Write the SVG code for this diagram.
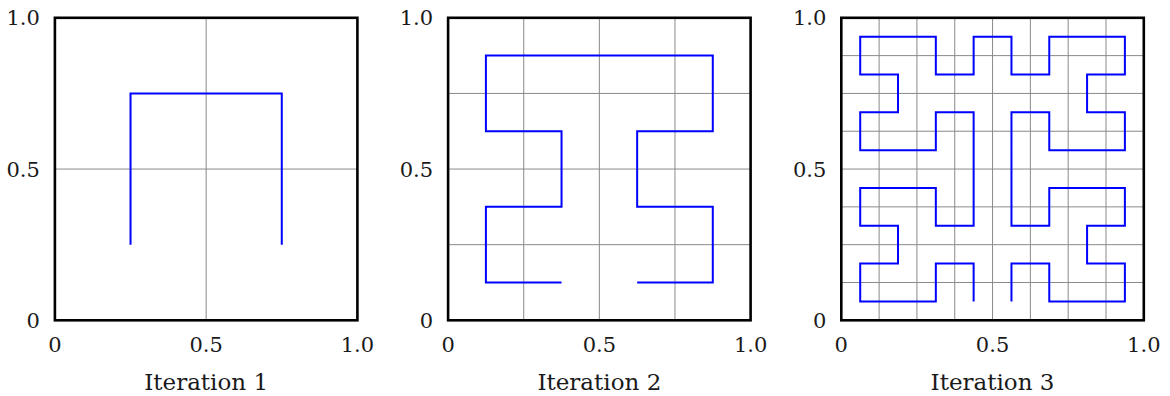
<svg xmlns="http://www.w3.org/2000/svg" width="1170" height="396" viewBox="0 0 1170 396">
<style>
.bg{fill:#ffffff}
.grid{stroke:#8a8a8a;stroke-width:1;fill:none}
.curve{stroke:#0000ff;stroke-width:2;fill:none;stroke-linejoin:miter}
.frame{stroke:#000000;stroke-width:2.6;fill:none}
text{font-family:'DejaVu Serif','Liberation Serif',serif;font-size:21px;fill:#1a1a1a}
.yl{text-anchor:end}
.xl{text-anchor:middle}
.cap{text-anchor:middle;font-size:23px}
</style>
<rect class="bg" x="0" y="0" width="1170" height="396"/>

<g id="panel1" transform="translate(54.9,17.8)">
  <path class="grid" d="M151.25 0V302.5M0 151.25H302.5"/>
  <polyline class="curve" points="75.63,226.88 75.63,75.63 226.88,75.63 226.88,226.88"/>
  <rect class="frame" x="0" y="0" width="302.5" height="302.5"/>
  <text class="yl" x="-15" y="7.5">1.0</text>
  <text class="yl" x="-15" y="159">0.5</text>
  <text class="yl" x="-15" y="310">0</text>
  <text class="xl" x="0" y="334.5">0</text>
  <text class="xl" x="151.25" y="334.5">0.5</text>
  <text class="xl" x="302.5" y="334.5">1.0</text>
  <text class="cap" x="151.25" y="372.5">Iteration 1</text>
</g>

<g id="panel2" transform="translate(448.1,17.8)">
  <path class="grid" d="M75.625 0V302.5M151.25 0V302.5M226.875 0V302.5M0 75.625H302.5M0 151.25H302.5M0 226.875H302.5"/>
  <polyline class="curve" points="189.06,264.69 264.69,264.69 264.69,189.06 189.06,189.06 189.06,113.44 264.69,113.44 264.69,37.81 37.81,37.81 37.81,113.44 113.44,113.44 113.44,189.06 37.81,189.06 37.81,264.69 113.44,264.69"/>
  <rect class="frame" x="0" y="0" width="302.5" height="302.5"/>
  <text class="yl" x="-15" y="7.5">1.0</text>
  <text class="yl" x="-15" y="159">0.5</text>
  <text class="yl" x="-15" y="310">0</text>
  <text class="xl" x="0" y="334.5">0</text>
  <text class="xl" x="151.25" y="334.5">0.5</text>
  <text class="xl" x="302.5" y="334.5">1.0</text>
  <text class="cap" x="151.25" y="372.5">Iteration 2</text>
</g>

<g id="panel3" transform="translate(841.3,17.8)">
  <path class="grid" d="M37.81 0V302.5M75.63 0V302.5M113.44 0V302.5M151.25 0V302.5M189.06 0V302.5M226.88 0V302.5M264.69 0V302.5M0 37.81H302.5M0 75.63H302.5M0 113.44H302.5M0 151.25H302.5M0 189.06H302.5M0 226.88H302.5M0 264.69H302.5"/>
  <polyline class="curve" points="132.34,283.59 132.34,245.78 94.53,245.78 94.53,283.59 18.91,283.59 18.91,245.78 56.72,245.78 56.72,207.97 18.91,207.97 18.91,170.16 94.53,170.16 94.53,207.97 132.34,207.97 132.34,94.53 94.53,94.53 94.53,132.34 18.91,132.34 18.91,94.53 56.72,94.53 56.72,56.72 18.91,56.72 18.91,18.91 94.53,18.91 94.53,56.72 132.34,56.72 132.34,18.91 170.16,18.91 170.16,56.72 207.97,56.72 207.97,18.91 283.59,18.91 283.59,56.72 245.78,56.72 245.78,94.53 283.59,94.53 283.59,132.34 207.97,132.34 207.97,94.53 170.16,94.53 170.16,207.97 207.97,207.97 207.97,170.16 283.59,170.16 283.59,207.97 245.78,207.97 245.78,245.78 283.59,245.78 283.59,283.59 207.97,283.59 207.97,245.78 170.16,245.78 170.16,283.59"/>
  <rect class="frame" x="0" y="0" width="302.5" height="302.5"/>
  <text class="yl" x="-15" y="7.5">1.0</text>
  <text class="yl" x="-15" y="159">0.5</text>
  <text class="yl" x="-15" y="310">0</text>
  <text class="xl" x="0" y="334.5">0</text>
  <text class="xl" x="151.25" y="334.5">0.5</text>
  <text class="xl" x="302.5" y="334.5">1.0</text>
  <text class="cap" x="151.25" y="372.5">Iteration 3</text>
</g>

<g id="connectors"></g>
</svg>
